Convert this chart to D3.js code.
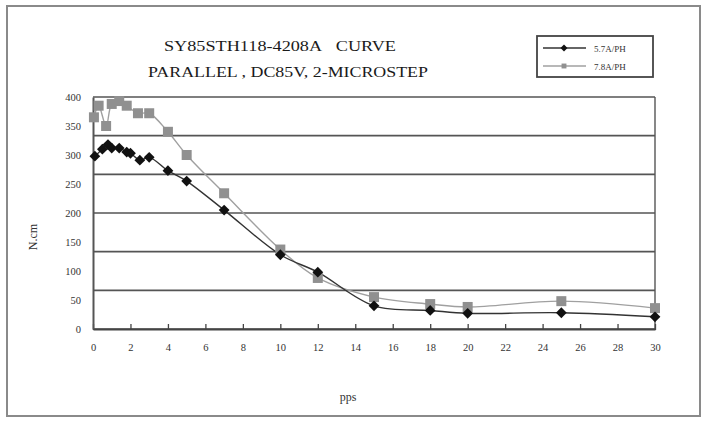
<!DOCTYPE html>
<html><head><meta charset="utf-8">
<script src="https://cdn.jsdelivr.net/npm/d3@7"></script>
<style>body{margin:0;background:#fff}svg{display:block}text{font-family:"Liberation Serif","DejaVu Serif",serif}</style>
</head><body><svg id="c" width="707" height="423"></svg>
<script>
const titleLines = ["SY85STH118-4208A\u00a0\u00a0\u00a0CURVE", "PARALLEL , DC85V, 2-MICROSTEP"];
const seriesNames = ["5.7A/PH", "7.8A/PH"];
const xTicks = [0,2,4,6,8,10,12,14,16,18,20,22,24,26,28,30];
const yTicks = [0,50,100,150,200,250,300,350,400];
const blackX = [0.1,0.5,0.8,1.0,1.4,1.8,2.0,2.5,3.0,4.0,5.0,7.0,10.0,12.0,15.0,18.0,20.0,25.0,30.0];
const blackY = [298,310,318,312,312,305,303,291,296,273,255,205,128,98,40,32,27,28,21];
const grayX = [0.05,0.3,0.7,1.0,1.4,1.8,2.4,3.0,4.0,5.0,7.0,10.0,12.0,15.0,18.0,20.0,25.0,30.0];
const grayY = [365,385,350,388,393,385,372,372,340,300,234,137,88,55,43,38,48,36];

const svg = d3.select("#c");
const L = 93, R = 655, T = 97, B = 329;
const x = d3.scaleLinear().domain([0,30]).range([L,R]);
const y = d3.scaleLinear().domain([0,400]).range([B,T]);
const FONT = "Liberation Serif";

// outer frame
svg.append("rect").attr("x",7).attr("y",6).attr("width",693).attr("height",410)
  .attr("fill","#fff").attr("stroke","#8a8a8a").attr("stroke-width",2);

// title
svg.selectAll("text.title").data(titleLines).join("text").attr("class","title")
  .attr("x",(d,i)=>[280,288][i]).attr("y",(d,i)=>[51,77][i])
  .attr("text-anchor","middle").attr("font-size",14).attr("font-family",FONT).attr("fill","#1a1a1a")
  .attr("textLength",(d,i)=>[232,280][i]).attr("lengthAdjust","spacingAndGlyphs").text(d=>d);

// gridlines (6 equal divisions of plot height)
const gridVals = d3.range(0,7).map(k=>400*k/6);
svg.append("g").selectAll("line").data(gridVals).join("line")
  .attr("x1",L).attr("x2",R).attr("y1",d=>y(d)).attr("y2",d=>y(d))
  .attr("stroke","#555").attr("stroke-width",1.6);
svg.append("line").attr("x1",R).attr("x2",R).attr("y1",T).attr("y2",B).attr("stroke","#555").attr("stroke-width",1.4);

// axes
const xAxis = d3.axisBottom(x).tickValues(xTicks).tickSize(0).tickPadding(15).tickFormat(d3.format("d"));
const gx = svg.append("g").attr("transform",`translate(0,${B})`).call(xAxis);
gx.attr("font-family",FONT);
gx.select(".domain").attr("stroke","#444").attr("stroke-width",2);
gx.selectAll("text").attr("font-size",10.5).attr("fill","#333");
gx.selectAll(".tick").append("line").attr("y1",-5).attr("y2",1).attr("stroke","#444").attr("stroke-width",1.3);

const yAxis = d3.axisLeft(y).tickValues(yTicks).tickSize(0).tickPadding(12);
const gy = svg.append("g").attr("transform",`translate(${L},0)`).call(yAxis);
gy.attr("font-family",FONT);
gy.select(".domain").attr("stroke","#555").attr("stroke-width",2);
gy.selectAll("text").attr("font-size",10.5).attr("fill","#333");

// axis titles
svg.append("text").attr("transform","translate(37,237) rotate(-90)").attr("text-anchor","middle")
  .attr("font-size",12).attr("font-family",FONT).attr("fill","#333").text("N.cm");
svg.append("text").attr("x",348).attr("y",401).attr("text-anchor","middle")
  .attr("font-size",12).attr("font-family",FONT).attr("fill","#333").text("pps");

// series
const line = d3.line().x(d=>x(d[0])).y(d=>y(d[1])).curve(d3.curveCatmullRom.alpha(0.5));
const grayData = d3.zip(grayX, grayY);
const blackData = d3.zip(blackX, blackY);
svg.append("path").attr("d",line(grayData)).attr("fill","none").attr("stroke","#a0a0a0").attr("stroke-width",1.4);
svg.append("path").attr("d",line(blackData)).attr("fill","none").attr("stroke","#333").attr("stroke-width",1.4);

const sq = d3.symbol().type(d3.symbolSquare).size(100);
const dm = d3.symbol().type(d3.symbolSquare).size(58);
svg.append("g").selectAll("path").data(grayData).join("path")
  .attr("transform",d=>`translate(${x(d[0])},${y(d[1])})`).attr("d",sq).attr("fill","#909090");
svg.append("g").selectAll("path").data(blackData).join("path")
  .attr("transform",d=>`translate(${x(d[0])},${y(d[1])}) rotate(45)`).attr("d",dm).attr("fill","#111");

// legend
const lg = svg.append("g");
lg.append("rect").attr("x",537).attr("y",36).attr("width",116).attr("height",41)
  .attr("fill","#fff").attr("stroke","#444").attr("stroke-width",1.8);
const items = [{n:seriesNames[0], c:"#333", f:"#111", yy:48, rot:45, sz:24},{n:seriesNames[1], c:"#a0a0a0", f:"#909090", yy:66, rot:0, sz:24}];
items.forEach(it=>{
  lg.append("line").attr("x1",543).attr("x2",586).attr("y1",it.yy).attr("y2",it.yy).attr("stroke",it.c).attr("stroke-width",1.3);
  lg.append("path").attr("transform",`translate(564,${it.yy}) rotate(${it.rot})`).attr("d",d3.symbol().type(d3.symbolSquare).size(it.sz)).attr("fill",it.f);
  lg.append("text").attr("x",594).attr("y",it.yy+3.5).attr("font-size",9).attr("font-family",FONT).attr("fill","#333").text(it.n);
});
</script></body></html>
